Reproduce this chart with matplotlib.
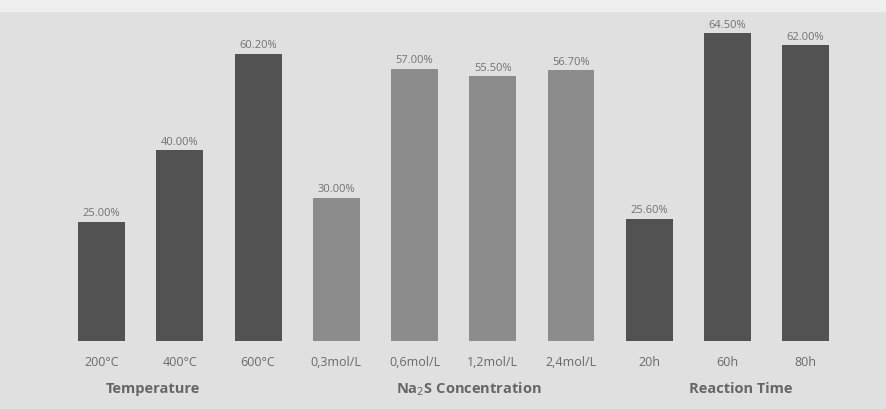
import matplotlib.pyplot as plt

# Values
categories = ['200°C', '400°C', '600°C',
              '0,3mol/L', '0,6mol/L', '1,2mol/L', '2,4mol/L',
              '20h', '60h', '80h']
values = [25.0, 40.0, 60.2, 30.0, 57.0, 55.5, 56.7, 25.6, 64.5, 62.0]
groups = ['Temperature', 'Na$_2$S Concentration', 'Reaction Time']

dark = '#525252'
light = '#8c8c8c'
bar_colors = [dark] * 3 + [light] * 4 + [dark] * 3

plt.rcParams['font.family'] = ['Open Sans', 'DejaVu Sans']

fig = plt.figure(figsize=(8.87, 4.10), dpi=100)
fig.patch.set_facecolor('#e0e0e0')
ax = fig.add_axes([0, 0.166, 1, 0.80])
ax.set_facecolor('#e0e0e0')

x = list(range(len(values)))
bars = ax.bar(x, values, width=0.6, color=bar_colors)
for b, v in zip(bars, values):
    ax.text(b.get_x() + b.get_width() / 2, v + 0.7, f'{v:.2f}%',
            ha='center', va='bottom', fontsize=8, color='#727272')

ax.set_xlim(-1.30, 10.04)
ax.set_ylim(0, 68.7)
ax.axis('off')

# category labels under bars
for xi, lab in zip(x, categories):
    ax.text(xi, -4.4, lab, ha='center', va='center', fontsize=9, color='#6a6a6a')

# group labels (slightly left of the group centre, as in the source)
group_x = [0.65, 4.70, 8.17]
for gx, g in zip(group_x, groups):
    ax.text(gx, -9.9, g, ha='center', va='center', fontsize=10.5,
            fontweight='bold', color='#666666')

# pale top strip
fig.patches.append(plt.Rectangle((0, 0.97), 1, 0.03, transform=fig.transFigure,
                                 color='#efefef', zorder=0))

fig.savefig('out.png', dpi=100, facecolor=fig.get_facecolor())
